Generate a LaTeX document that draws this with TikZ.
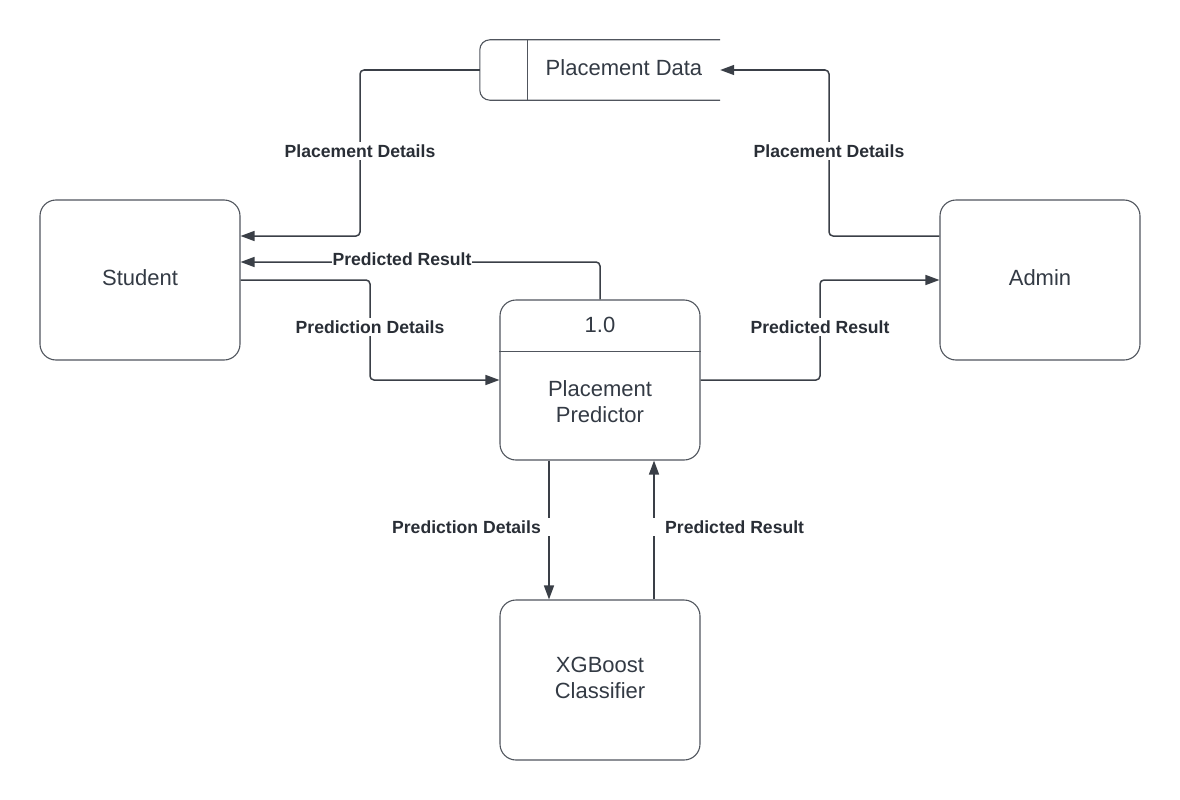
\documentclass[tikz,border=0pt]{standalone}
\usepackage{fontspec}
\setmainfont{Liberation Sans}
\usetikzlibrary{arrows.meta}
\definecolor{ln}{HTML}{3A3F47}
\definecolor{bx}{HTML}{50555D}
\definecolor{tx}{HTML}{333A44}
\tikzset{
  box/.style={draw=bx, line width=1.1pt, rounded corners=16pt, minimum width=200pt, minimum height=160pt, align=center, font=\fontsize{22}{26}\selectfont, text=tx, text depth=4pt},
  flow/.style={draw=ln, line width=1.5pt, rounded corners=4pt, -{Triangle[length=14pt,width=10pt]}},
  lbl/.style={fill=white, font=\bfseries\fontsize{17.6}{20}\selectfont, text=tx!80!black, inner xsep=1pt, inner ysep=3pt}
}
\begin{document}
\begin{tikzpicture}[x=1pt,y=-1pt]
\useasboundingbox (0,0) rectangle (1180,800);
% entities
\node[box] (stu) at (140,280) {Student};
\node[box] (adm) at (1040,280) {Admin};
\node[box] (xg) at (600,680) {XGBoost\\Classifier};
\node[box] (pp) at (600,380) {};
\draw[bx, line width=1.1pt] ([yshift=-52pt]pp.north west) -- ([yshift=-52pt]pp.north east);
\node[font=\fontsize{22}{26}\selectfont, text=tx] (ppid) at (600,325) {1.0};
\node[font=\fontsize{22}{26}\selectfont, text=tx, align=center] (ppname) at (600,402) {Placement\\Predictor};
% data store
\node[minimum width=240pt, minimum height=60pt, inner sep=0pt] (ds) at (600,70) {};
\draw[bx, line width=1.1pt, rounded corners=10pt] (ds.north east) -- (ds.north west) -- (ds.south west) -- (ds.south east);
\draw[bx, line width=1.1pt] ([xshift=48pt]ds.north west) -- ([xshift=48pt]ds.south west);
\node[font=\fontsize{22}{26}\selectfont, text=tx] (dsname) at (624,68) {Placement Data};
% flows
\draw[flow] (ds.west) -- (360,70) -- (360,236) -- ([yshift=44pt]stu.east);
\node[lbl] (l1) at (360,151) {Placement Details};
\draw[flow] (pp.north) -- (600,262) -- ([yshift=18pt]stu.east);
\node[lbl] (l2) at (402,259) {Predicted Result};
\draw[flow] (stu.east) -- (370,280) -- (370,380) -- (pp.west);
\node[lbl] (l3) at (370,327) {Prediction Details};
\draw[flow] (pp.east) -- (820,380) -- (820,280) -- (adm.west);
\node[lbl] (l4) at (820,327) {Predicted Result};
\draw[flow] ([yshift=44pt]adm.west) -- (829,236) -- (829,70) -- (ds.east);
\node[lbl] (l5) at (829,151) {Placement Details};
\draw[flow] ([xshift=-51pt]pp.south) -- ([xshift=-51pt]xg.north);
\node[lbl, anchor=east, inner xsep=12pt] (l6) at (553,527) {Prediction Details};
\draw[flow] ([xshift=54pt]xg.north) -- ([xshift=54pt]pp.south);
\node[lbl, anchor=west, inner xsep=13pt] (l7) at (652,527) {Predicted Result};
\end{tikzpicture}
\end{document}
